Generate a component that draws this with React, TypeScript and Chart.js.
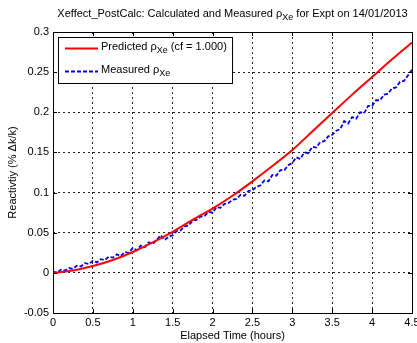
import React, { useEffect, useRef } from "react";
import { Chart, registerables } from "chart.js";

Chart.register(...registerables);

const titleMain = "Xeffect_PostCalc: Calculated and Measured ρ";
const titleSub = "Xe";
const titleTail = " for Expt on 14/01/2013";
const xAxisTitle = "Elapsed Time (hours)";
const yAxisTitle = "Reactivtiy (% Δk/k)";

const predTimes = [0, 0.25, 0.5, 0.75, 1, 1.25, 1.5, 1.75, 2, 2.25, 2.5, 2.75, 3, 3.25, 3.5, 3.75, 4, 4.25, 4.5];
const predValues = [0, 0.003, 0.0085, 0.016, 0.026, 0.038, 0.051, 0.066, 0.08, 0.096, 0.114, 0.133, 0.153, 0.176, 0.199, 0.222, 0.244, 0.266, 0.287];

const measTimes = [
  0, 0.05, 0.1, 0.15, 0.2, 0.25, 0.3, 0.35, 0.4, 0.45, 0.5, 0.55, 0.6, 0.65, 0.7, 0.75, 0.8, 0.85, 0.9, 0.95,
  1, 1.05, 1.1, 1.15, 1.2, 1.25, 1.3, 1.35, 1.4, 1.45, 1.5, 1.55, 1.6, 1.65, 1.7, 1.75, 1.8, 1.85, 1.9, 1.95,
  2, 2.05, 2.1, 2.15, 2.2, 2.25, 2.3, 2.35, 2.4, 2.45, 2.5, 2.55, 2.6, 2.65, 2.7, 2.75, 2.8, 2.85, 2.9, 2.95,
  3, 3.05, 3.1, 3.15, 3.2, 3.25, 3.3, 3.35, 3.4, 3.45, 3.5, 3.55, 3.6, 3.65, 3.7, 3.75, 3.8, 3.85, 3.9, 3.95,
  4, 4.05, 4.1, 4.15, 4.2, 4.25, 4.3, 4.35, 4.4, 4.45, 4.5,
];
const measValues = [
  0.002, 0.0, 0.004, 0.003, 0.006, 0.005, 0.009, 0.008, 0.012, 0.011, 0.015, 0.013, 0.017, 0.016, 0.02, 0.019, 0.023, 0.021, 0.026, 0.025,
  0.031, 0.028, 0.034, 0.032, 0.038, 0.036, 0.041, 0.047, 0.041, 0.045, 0.047, 0.052, 0.053, 0.058, 0.059, 0.065, 0.066, 0.07, 0.071, 0.076,
  0.075, 0.082, 0.081, 0.086, 0.087, 0.091, 0.092, 0.097, 0.096, 0.102, 0.103, 0.107, 0.109, 0.115, 0.114, 0.122, 0.121, 0.128, 0.128, 0.134,
  0.137, 0.144, 0.142, 0.15, 0.149, 0.157, 0.156, 0.163, 0.164, 0.17, 0.172, 0.177, 0.179, 0.189, 0.186, 0.194, 0.192, 0.2, 0.199, 0.208,
  0.208, 0.215, 0.215, 0.222, 0.223, 0.23, 0.231, 0.238, 0.239, 0.246, 0.253,
];

const FONT = "'Liberation Sans', Arial, Helvetica, sans-serif";
const FS = 11;

function drawSubText(ctx: CanvasRenderingContext2D, x: number, y: number, parts: [string, boolean][], size: number) {
  let cx = x;
  for (const [t, sub] of parts) {
    ctx.font = `${sub ? size - 2 : size}px ${FONT}`;
    ctx.fillText(t, cx, sub ? y + 3.5 : y);
    cx += ctx.measureText(t).width;
  }
  return cx - x;
}
function measureParts(ctx: CanvasRenderingContext2D, parts: [string, boolean][], size: number) {
  let w = 0;
  for (const [t, sub] of parts) {
    ctx.font = `${sub ? size - 2 : size}px ${FONT}`;
    w += ctx.measureText(t).width;
  }
  return w;
}

const decorPlugin = {
  id: "decor",
  afterDraw(chart: any) {
    const ctx: CanvasRenderingContext2D = chart.ctx;
    const { left, right, top, bottom } = chart.chartArea;
    const xs = chart.scales.x;
    const ys = chart.scales.y;
    ctx.save();
    ctx.strokeStyle = "#000";
    ctx.lineWidth = 1;
    ctx.setLineDash([]);
    ctx.beginPath();
    for (const t of xs.ticks) {
      const px = Math.round(xs.getPixelForValue(t.value)) + 0.5;
      ctx.moveTo(px, bottom);
      ctx.lineTo(px, bottom - 4);
      ctx.moveTo(px, top);
      ctx.lineTo(px, top + 4);
    }
    for (const t of ys.ticks) {
      const py = Math.round(ys.getPixelForValue(t.value)) + 0.5;
      ctx.moveTo(left, py);
      ctx.lineTo(left + 4, py);
      ctx.moveTo(right, py);
      ctx.lineTo(right - 4, py);
    }
    ctx.stroke();
    ctx.strokeRect(Math.round(left) + 0.5, Math.round(top) + 0.5, Math.round(right - left), Math.round(bottom - top));

    ctx.fillStyle = "#000";
    ctx.textBaseline = "middle";
    ctx.textAlign = "left";
    const tparts: [string, boolean][] = [[titleMain, false], [titleSub, true], [titleTail, false]];
    const tw = measureParts(ctx, tparts, FS);
    drawSubText(ctx, (left + right) / 2 - tw / 2, 14, tparts, FS);

    const lx = 58.5, ly = 37.5, lw = 174, lh = 46;
    ctx.fillStyle = "#fff";
    ctx.fillRect(lx, ly, lw, lh);
    ctx.strokeStyle = "#000";
    ctx.lineWidth = 1;
    ctx.strokeRect(lx, ly, lw, lh);
    ctx.strokeStyle = "#ff0000";
    ctx.lineWidth = 2;
    ctx.beginPath();
    ctx.moveTo(65, 48.5);
    ctx.lineTo(98, 48.5);
    ctx.stroke();
    ctx.strokeStyle = "#0000ff";
    ctx.lineWidth = 1.8;
    ctx.setLineDash([4, 2]);
    ctx.beginPath();
    ctx.moveTo(65, 71.5);
    ctx.lineTo(98, 71.5);
    ctx.stroke();
    ctx.setLineDash([]);
    ctx.fillStyle = "#000";
    drawSubText(ctx, 101, 47, [["Predicted ρ", false], ["Xe", true], [" (cf = 1.000)", false]], FS);
    drawSubText(ctx, 101, 70, [["Measured ρ", false], ["Xe", true]], FS);
    ctx.restore();
  },
};

export default function App() {
  const ref = useRef<HTMLCanvasElement>(null);
  useEffect(() => {
    document.body.style.margin = "0";
    const ctx = ref.current!.getContext("2d")!;
    const chart = new Chart(ctx, {
      type: "line",
      data: {
        datasets: [
          {
            label: "Predicted",
            data: predTimes.map((t, i) => ({ x: t, y: predValues[i] })),
            borderColor: "#ff0000",
            borderWidth: 2,
            pointRadius: 0,
            tension: 0.3,
            fill: false,
          },
          {
            label: "Measured",
            data: measTimes.map((t, i) => ({ x: t, y: measValues[i] })),
            borderColor: "#0000ff",
            borderWidth: 1.8,
            borderDash: [4, 2],
            pointRadius: 0,
            tension: 0,
            fill: false,
          },
        ],
      },
      options: {
        animation: false,
        responsive: false,
        devicePixelRatio: 1,
        layout: { padding: { top: 32, right: 5, left: 0, bottom: 0 } },
        plugins: {
          legend: { display: false },
          title: { display: false },
          tooltip: { enabled: false },
        },
        scales: {
          x: {
            type: "linear",
            min: 0,
            max: 4.5,
            afterFit: (s: any) => { s.height = 30; s.paddingLeft = 0; s.paddingRight = 0; },
            ticks: {
              stepSize: 0.5,
              color: "#000",
              padding: 3,
              maxRotation: 0,
              font: { family: FONT, size: FS },
              callback: (v: any) => String(v),
            },
            grid: { color: "#222", drawTicks: false, lineWidth: 1 },
            border: { display: false, dash: [2, 3] },
            title: {
              display: true,
              text: xAxisTitle,
              color: "#000",
              font: { family: FONT, size: FS },
              padding: { top: 0, bottom: 0 },
            },
          },
          y: {
            type: "linear",
            min: -0.05,
            max: 0.3,
            afterFit: (s: any) => { s.width = 53; s.paddingTop = 0; s.paddingBottom = 0; },
            ticks: {
              stepSize: 0.05,
              color: "#000",
              padding: 4,
              font: { family: FONT, size: FS },
              callback: (v: any) => String(Math.round(v * 100) / 100),
            },
            grid: { color: "#222", drawTicks: false, lineWidth: 1 },
            border: { display: false, dash: [2, 3] },
            title: {
              display: true,
              text: yAxisTitle,
              color: "#000",
              font: { family: FONT, size: FS },
              padding: { top: 6, bottom: 0 },
            },
          },
        },
      },
      plugins: [decorPlugin],
    });
    return () => chart.destroy();
  }, []);
  return (
    <div style={{ width: 417, height: 343, background: "#fff" }}>
      <canvas ref={ref} width={417} height={343} style={{ display: "block" }} />
    </div>
  );
}
